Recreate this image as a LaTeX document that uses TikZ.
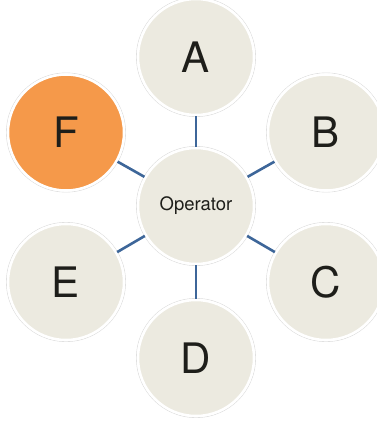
\documentclass[tikz,border=0pt]{standalone}
\usepackage{fontspec}
\setmainfont{TeX Gyre Heros}
\definecolor{nodefill}{HTML}{ECEAE0}
\definecolor{hilite}{HTML}{F5994A}
\definecolor{linkblue}{HTML}{3D6699}
\definecolor{ink}{HTML}{1E1E1A}
\definecolor{ring}{HTML}{DCDCDC}
\begin{document}
\begin{tikzpicture}[x=1pt,y=-1pt,
  bubble/.style={circle,minimum size=116pt,inner sep=0pt,fill=nodefill,draw=white,line width=2.5pt,text=ink,font=\fontsize{42}{42}\selectfont,
    append after command={\pgfextra{\draw[ring,line width=0.6pt] (\tikzlastnode.center) circle (59.6pt);}}},
  hot/.style={fill=hilite},
  center/.style={font=\fontsize{18.5}{18.5}\selectfont},
  link/.style={draw=linkblue,line width=2.6pt}]
\useasboundingbox (0,0) rectangle (377,423);
\begin{scope}
\clip (0,0) rectangle (377,423);
\node[bubble,center] (op) at (196,206) {Operator};
\node[bubble] (a) at (196,57) {A};
\node[bubble] (b) at (326,132.5) {B};
\node[bubble] (c) at (326,282) {C};
\node[bubble] (d) at (196,358) {D};
\node[bubble] (e) at (66,282) {E};
\node[bubble,hot] (f) at (66,132.5) {F};
\foreach \n in {a,b,c,d,e,f} \draw[link] (op) -- (\n);
\end{scope}
\end{tikzpicture}
\end{document}
